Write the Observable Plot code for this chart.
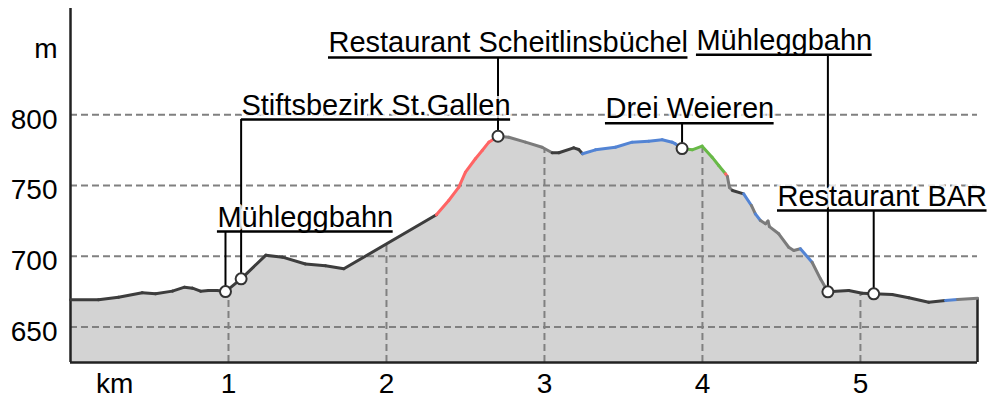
<!DOCTYPE html>
<html><head><meta charset="utf-8">
<script src="https://cdn.jsdelivr.net/npm/d3@7"></script>
<script src="https://cdn.jsdelivr.net/npm/@observablehq/plot@0.6"></script>
<style>body{margin:0;background:#fff}</style>
</head><body><div id="chart"></div>
<script>
// Profile distance (km) and elevation (m)
const km = [0, 0.177, 0.304, 0.454, 0.538, 0.645, 0.722, 0.772, 0.823, 0.873, 0.928, 0.981, 1.080, 1.237, 1.342, 1.487, 1.614, 1.730, 2.316, 2.394, 2.458, 2.500, 2.563, 2.606, 2.648, 2.706, 2.774, 2.880, 2.985, 3.049, 3.091, 3.185, 3.217, 3.241, 3.323, 3.449, 3.555, 3.660, 3.745, 3.808, 3.829, 3.871, 3.935, 3.998, 4.061, 4.103, 4.146, 4.158, 4.171, 4.190, 4.261, 4.310, 4.335, 4.367, 4.399, 4.415, 4.424, 4.483, 4.546, 4.578, 4.620, 4.694, 4.747, 4.794, 4.926, 5.011, 5.084, 5.201, 5.306, 5.432, 5.538, 5.614, 5.741];
const elev = [669.3, 669.3, 671.1, 674.2, 673.5, 675.4, 678.2, 677.5, 675.4, 675.8, 675.8, 675.1, 684.1, 700.8, 699.4, 694.6, 693.3, 691.2, 729.3, 739.4, 748.8, 759.4, 768.9, 774.7, 780.6, 784.8, 784.1, 780.6, 777.0, 773.1, 773.1, 776.6, 775.4, 772.4, 775.2, 777.0, 780.6, 781.3, 782.3, 780.6, 779.4, 776.1, 775.2, 777.8, 770.0, 764.1, 758.3, 756.4, 748.6, 746.5, 744.1, 735.9, 730.0, 725.3, 723.0, 724.9, 721.0, 715.9, 706.4, 704.1, 705.3, 695.8, 684.1, 674.9, 675.8, 673.9, 673.5, 673.0, 670.7, 667.6, 668.8, 669.5, 670.4];
// Surface class of each segment (between point i and i+1)
const surface = [
 "D","D","D","D","D","D","D","D","D","D","D","D","D","D","D","D","D","D",
 "R","R","R","R","R","R","R",
 "G","G","G","G",
 "D","D","D","D",
 "B","B","B","B","B","B","B","B",
 "N","N","N","N","N",
 "R","G","G","D","B","G","B",
 "G","G","G","G","G","G","G",
 "B","G","G",
 "D","D","D","D","D","D","D",
 "B","G"];
const surfaceClasses = ["D","G","R","B","N"];
const surfaceColors = ["#3d3d3d","#7b7b7b","#ff6464","#5384d4","#68b947"];

// Points of interest
const poiName = ["Mühleggbahn","Stiftsbezirk St.Gallen","Restaurant Scheitlinsbüchel","Drei Weieren","Mühleggbahn","Restaurant BAR"];
const poiKm = [0.981, 1.080, 2.706, 3.871, 4.794, 5.084];
const poiElev = [675.1, 684.1, 784.8, 776.1, 674.9, 673.5];
const labelKm = [0.930, 1.082, 1.633, 3.386, 3.962, 4.475];
const labelElev = [717.5, 796.6, 840.4, 794.0, 842.3, 732.3];

// Axes
const yTicks = [850, 800, 750, 700, 650];
const yTickLabels = ["m", "800", "750", "700", "650"];
const xTicks = [0.28, 1, 2, 3, 4, 5];
const xTickLabels = ["km", "1", "2", "3", "4", "5"];
const gridElev = [650, 700, 750, 800];
const gridKm = [1, 2, 3, 4, 5];

const W = 996, H = 406, ML = 70, MR = 19, MT = 8, MB = 44;
const X0 = 0, X1 = km[km.length - 1], Y0 = 625, Y1 = 875;
const FONT = "'Liberation Sans', Arial, sans-serif";
const LABEL_SIZE = 29;

const profile = km.map((k, i) => ({km: k, elev: elev[i]}));
const segments = surface.map((s, i) => ({x1: km[i], y1: elev[i], x2: km[i + 1], y2: elev[i + 1], s}));

const ctx = document.createElement("canvas").getContext("2d");
ctx.font = LABEL_SIZE + "px " + FONT;
const pxPerKm = (W - ML - MR) / (X1 - X0);
const labels = poiName.map((n, i) => ({
  name: n, km: poiKm[i], elev: poiElev[i], lx: labelKm[i], ly: labelElev[i],
  lx2: labelKm[i] + ctx.measureText(n).width / pxPerKm
}));
const yLab = yTicks.map((v, i) => ({v, t: yTickLabels[i]}));
const xLab = xTicks.map((v, i) => ({v, t: xTickLabels[i]}));

const grid = {stroke: "#808080", strokeWidth: 2, strokeDasharray: "7,4"};

const chart = Plot.plot({
  width: W, height: H, marginLeft: ML, marginRight: MR, marginTop: MT, marginBottom: MB,
  x: {domain: [X0, X1], axis: null},
  y: {domain: [Y0, Y1], axis: null},
  color: {type: "ordinal", domain: surfaceClasses, range: surfaceColors},
  style: {fontFamily: FONT, background: "white", overflow: "visible"},
  marks: [
    Plot.areaY(profile, {x: "km", y1: Y0, y2: "elev", fill: "#d3d3d3"}),
    Plot.ruleX(gridKm, {y1: Y0, y2: Y1, ...grid}),
    Plot.areaY(profile, {x: "km", y1: "elev", y2: Y1, fill: "white"}),
    Plot.ruleY(gridElev, {x1: X0, x2: X1, ...grid}),
    Plot.ruleY([Y0], {x1: X0, x2: X1, stroke: "#222", strokeWidth: 2.5}),
    Plot.ruleX([X1], {y1: Y0, y2: elev[elev.length - 1], stroke: "#222", strokeWidth: 2.5}),
    Plot.ruleX([X0], {y1: Y0, y2: Y1, stroke: "#222", strokeWidth: 2.5}),
    Plot.link(segments, {x1: "x1", y1: "y1", x2: "x2", y2: "y2", stroke: "s", strokeWidth: 3, strokeLinecap: "round"}),
    Plot.ruleX(labels, {x: "km", y1: "ly", y2: "elev", stroke: "black", strokeWidth: 2}),
    Plot.text(labels, {x: "lx", y: "ly", text: "name", textAnchor: "start", lineAnchor: "bottom", dy: -5,
      fontSize: LABEL_SIZE, fill: "black", stroke: "white", strokeWidth: 6, strokeOpacity: 0.8}),
    Plot.ruleY(labels, {y: "ly", x1: "lx", x2: "lx2", stroke: "black", strokeWidth: 2.5}),
    Plot.dot(labels, {x: "km", y: "elev", r: 5.5, fill: "white", stroke: "#333", strokeWidth: 2}),
    Plot.text(yLab, {y: "v", text: "t", frameAnchor: "left", textAnchor: "end", dx: -13, dy: 5, fontSize: 28, fill: "black"}),
    Plot.text(xLab, {x: "v", text: "t", frameAnchor: "bottom", dy: 30, fontSize: 28, fill: "black"})
  ]
});
document.getElementById("chart").appendChild(chart);
</script>
</body></html>
